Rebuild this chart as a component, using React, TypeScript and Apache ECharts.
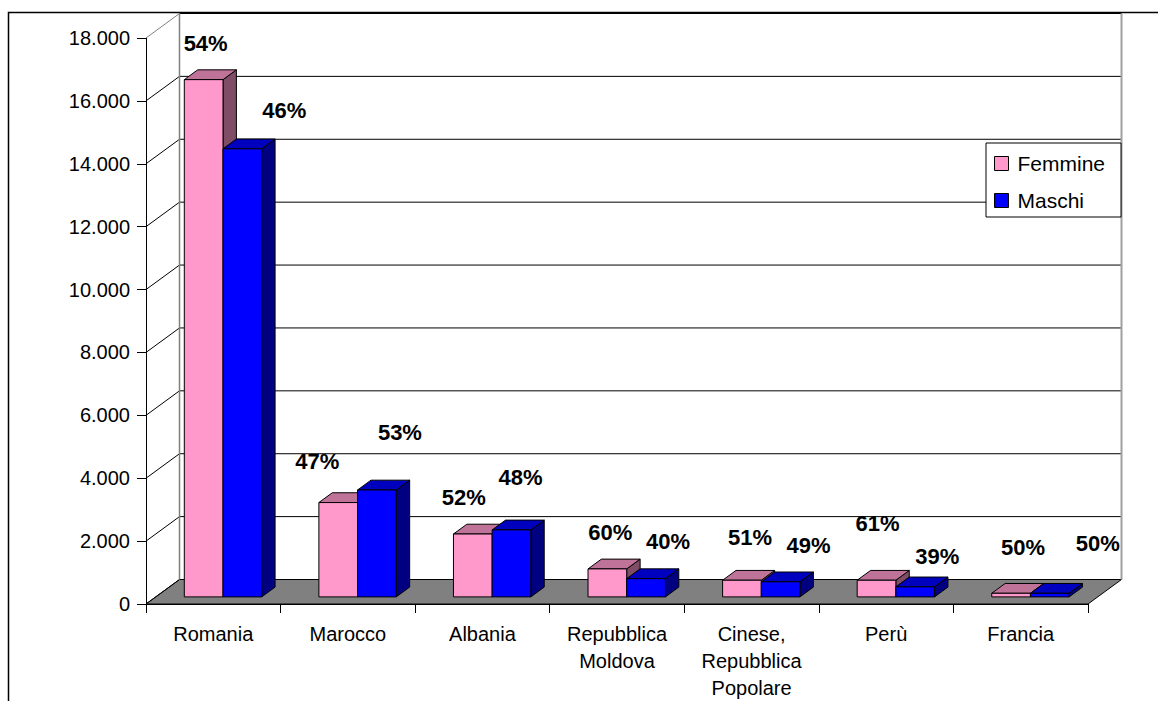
import React, { useEffect, useRef } from "react";
import * as echarts from "echarts";

// ---- data ----
const categories = [
  "Romania",
  "Marocco",
  "Albania",
  "Repubblica Moldova",
  "Cinese, Repubblica Popolare",
  "Perù",
  "Francia",
];
const femmine = [16450, 3000, 2000, 890, 530, 530, 115];
const maschi = [14250, 3400, 2130, 580, 480, 320, 115];
const femminePct = ["54%", "47%", "52%", "60%", "51%", "61%", "50%"];
const maschiPct = ["46%", "53%", "48%", "40%", "49%", "39%", "50%"];
const yTicks = [0, 2000, 4000, 6000, 8000, 10000, 12000, 14000, 16000, 18000];

// ---- layout (pixels) ----
const DX = 33.5;
const DY = -24.5;
const F0 = 0.29;
const F1 = 0.69;
const GROUP_RATIO = 0.575;
const FONT = "'Liberation Sans', Arial, sans-serif";
const femNudge = [[2, -36], [-21, -41], [-9, -37], [3, -36], [8, -43], [1, -57], [12, -46]];
const masNudge = [[42, -38], [23, -57], [9, -52], [22, -37], [28, -36], [22, -30], [48, -50]];

function fmt(v: number) {
  return String(v).replace(/\B(?=(\d{3})+(?!\d))/g, ".");
}

function barSeries(
  name: string,
  color: string,
  topColor: string,
  sideColor: string,
  values: number[],
  pcts: string[],
  nudges: number[][],
  slot: number
) {
  return {
    type: "custom",
    name,
    z: 3,
    silent: true,
    itemStyle: { color },
    data: values.map((v, i) => [i, v]),
    renderItem: (params: any, api: any) => {
      const i = api.value(0) as number;
      const v = api.value(1) as number;
      const base = api.coord([i, 0]);
      const top = api.coord([i, v]);
      const band = api.size([1, 0])[0];
      const gw = band * GROUP_RATIO;
      const bw = gw / 2;
      const xl = base[0] - gw / 2 + slot * bw + DX * F0;
      const xr = xl + bw;
      const yb = base[1] + DY * F0;
      const yt = top[1] + DY * F0;
      const ddx = DX * (F1 - F0);
      const ddy = DY * (F1 - F0);
      const st = { stroke: "#000", lineWidth: 1 };
      return {
        type: "group",
        children: [
          {
            type: "polygon",
            shape: { points: [[xr, yb], [xr + ddx, yb + ddy], [xr + ddx, yt + ddy], [xr, yt]] },
            style: { fill: sideColor, ...st },
          },
          {
            type: "polygon",
            shape: { points: [[xl, yt], [xr, yt], [xr + ddx, yt + ddy], [xl + ddx, yt + ddy]] },
            style: { fill: topColor, ...st },
          },
          {
            type: "rect",
            shape: { x: xl, y: yt, width: bw, height: yb - yt },
            style: { fill: color, ...st },
          },
          {
            type: "text",
            z2: 10,
            style: {
              text: pcts[i],
              x: (xl + xr) / 2 + nudges[i][0],
              y: yt + nudges[i][1],
              align: "center",
              verticalAlign: "middle",
              textAlign: "center",
              textVerticalAlign: "middle",
              fontSize: 22,
              fontWeight: "bold",
              fontFamily: FONT,
              fill: "#000",
            },
          },
        ],
      };
    },
  };
}

export default function App() {
  const ref = useRef<HTMLDivElement>(null);
  useEffect(() => {
    if (!ref.current) return;
    const chart = echarts.init(ref.current, null, { renderer: "svg" });
    const option: any = {
      animation: false,
      backgroundColor: "#fff",
      grid: { left: 146, right: 70, top: 38, bottom: 97 },
      xAxis: {
        type: "category",
        data: categories,
        axisLine: { show: true, lineStyle: { color: "#000", width: 1 } },
        axisTick: { show: true, length: 9, interval: 0, lineStyle: { color: "#000" } },
        axisLabel: {
          interval: 0,
          margin: 16,
          fontSize: 20,
          lineHeight: 27,
          fontFamily: FONT,
          color: "#000",
          formatter: (v: string) => v.split(" ").join("\n"),
        },
        splitLine: { show: false },
      },
      yAxis: {
        type: "value",
        min: 0,
        max: 18000,
        interval: 2000,
        axisLine: { show: true, lineStyle: { color: "#000", width: 1 } },
        axisTick: { show: true, length: 9, lineStyle: { color: "#000" } },
        axisLabel: {
          margin: 16,
          fontSize: 20,
          fontFamily: FONT,
          color: "#000",
          formatter: (v: number) => fmt(v),
        },
        splitLine: { show: false },
      },
      legend: {
        data: ["Femmine", "Maschi"],
        orient: "vertical",
        left: 986,
        top: 143,
        backgroundColor: "#fff",
        borderColor: "#000",
        borderWidth: 1,
        borderRadius: 0,
        padding: [10, 16, 6, 8],
        itemWidth: 14,
        itemHeight: 14,
        itemGap: 16,
        icon: "rect",
        selectedMode: false,
        itemStyle: { borderColor: "#000", borderWidth: 1 },
        textStyle: { fontSize: 21, fontFamily: FONT, color: "#000", padding: [0, 0, 0, 4] },
      },
      graphic: [
        {
          type: "polyline",
          silent: true,
          shape: { points: [[8.5, 701], [8.5, 12.5], [1158, 12.5]] },
          style: { stroke: "#000", lineWidth: 1.5, fill: null },
        },
      ],
      series: [
        {
          type: "custom",
          name: "walls",
          z: 1,
          silent: true,
          data: [[0, 0]],
          renderItem: (params: any, api: any) => {
            const band = api.size([1, 0])[0];
            const c0 = api.coord([0, 0]);
            const cN = api.coord([categories.length - 1, 0]);
            const xL = c0[0] - band / 2;
            const xR = cN[0] + band / 2;
            const y0 = c0[1];
            const yTop = api.coord([0, yTicks[yTicks.length - 1]])[1];
            const children: any[] = [];
            children.push({
              type: "polygon",
              shape: { points: [[xL, y0], [xR, y0], [xR + DX, y0 + DY], [xL + DX, y0 + DY]] },
              style: { fill: "#808080", stroke: "#000", lineWidth: 1 },
            });
            yTicks.forEach((t, k) => {
              const y = api.coord([0, t])[1];
              const last = k === yTicks.length - 1;
              if (t !== 0) {
                children.push({
                  type: "line",
                  shape: { x1: xL + DX, y1: y + DY, x2: xR + DX, y2: y + DY },
                  style: { stroke: "#000", lineWidth: 1 },
                });
              }
              children.push({
                type: "line",
                shape: { x1: xL, y1: y, x2: xL + DX, y2: y + DY },
                style: { stroke: last ? "#808080" : "#000", lineWidth: 1 },
              });
            });
            children.push({
              type: "line",
              shape: { x1: xL + DX, y1: yTop + DY, x2: xL + DX, y2: y0 + DY },
              style: { stroke: "#808080", lineWidth: 1.5 },
            });
            children.push({
              type: "line",
              shape: { x1: xR + DX, y1: yTop + DY, x2: xR + DX, y2: y0 + DY },
              style: { stroke: "#a0a0a0", lineWidth: 2 },
            });
            return { type: "group", children };
          },
        },
        barSeries("Femmine", "#FF99CC", "#BF7399", "#804D66", femmine, femminePct, femNudge, 0),
        barSeries("Maschi", "#0000FF", "#0000BF", "#000080", maschi, maschiPct, masNudge, 1),
      ],
    };
    chart.setOption(option);
    return () => chart.dispose();
  }, []);
  return (
    <div
      ref={ref}
      style={{ position: "fixed", left: 0, top: 0, width: 1158, height: 701 }}
    />
  );
}
